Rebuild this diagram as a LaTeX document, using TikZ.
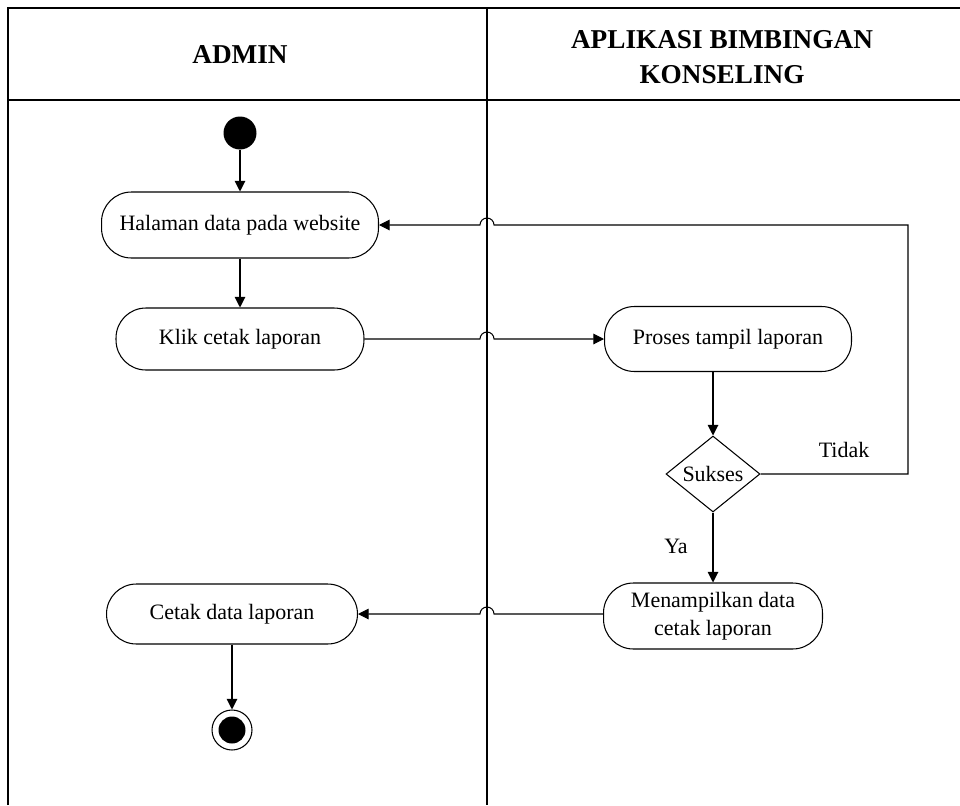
\documentclass[tikz,border=0pt]{standalone}
\usepackage{fontspec}
\setmainfont{Liberation Serif}
\usetikzlibrary{arrows.meta,shapes.geometric}

\tikzset{
  lanetitle/.style={font=\fontsize{15.5}{20}\selectfont\bfseries, align=center},
  activity/.style={draw, rounded corners=17pt, inner sep=0pt, align=center,
    font=\fontsize{12.5}{16}\selectfont},
  decision/.style={draw, diamond, aspect=1.24, inner sep=0pt,
    minimum width=1.88cm, minimum height=1.52cm, font=\fontsize{12.5}{16}\selectfont},
  guard/.style={font=\fontsize{12.5}{16}\selectfont},
  startstate/.style={circle, fill, minimum size=0.66cm, inner sep=0pt},
  endstate/.style={circle, draw, minimum size=0.8cm, inner sep=0pt,
    path picture={\fill (path picture bounding box.center) circle (0.27cm);}},
  flow/.style={-{Triangle[length=6pt,width=6pt]}, line width=0.6pt},
}

\begin{document}
\begin{tikzpicture}[x=0.02cm, y=-0.02cm, line width=0.6pt]
\useasboundingbox (0,0) rectangle (960,805);

% swimlane frame
\coordinate (lane) at (487,8);
\coordinate (retx) at (908,0);
\draw[line width=0.8pt] (8,805) -- (8,8) -- (960,8);
\draw[line width=0.8pt] (8,100) -- (960,100);
\draw[line width=0.8pt] (lane) -- (487,805);
\node[lanetitle] (admin) at (240,55) {ADMIN};
\node[lanetitle] (app) at (722,57) {APLIKASI BIMBINGAN\\KONSELING};

% activities
\node[startstate] (start) at (240,133) {};
\node[activity, minimum width=5.54cm, minimum height=1.32cm] (halaman) at (240,225) {Halaman data pada website};
\node[activity, minimum width=4.96cm, minimum height=1.24cm] (klik) at (240,339) {Klik cetak laporan};
\node[activity, minimum width=4.94cm, minimum height=1.3cm] (proses) at (728,339) {Proses tampil laporan};
\node[decision] (sukses) at (713,474) {Sukses};
\node[guard] (tidak) at (844,450) {Tidak};
\node[guard] (ya) at (676,546) {Ya};
\node[activity, minimum width=4.38cm, minimum height=1.32cm] (tampil) at (713,616) {Menampilkan data\\cetak laporan};
\node[activity, minimum width=5.02cm, minimum height=1.2cm] (cetak) at (232,614) {Cetak data laporan};
\node[endstate] (end) at (232,730) {};

% transitions
\draw[flow] (start) -- (halaman);
\draw[flow] (halaman) -- (klik);
\draw[flow] (klik) -- ([xshift=-0.14cm]klik -| lane) arc[start angle=180, end angle=0, radius=0.14cm] -- (proses);
\draw[flow] (proses.south -| sukses) -- (sukses);
\draw[flow] (sukses.east) -- (sukses.east -| retx) -- (retx |- halaman.east)
  -- ([xshift=0.14cm]halaman.east -| lane) arc[start angle=0, end angle=180, radius=0.14cm] -- (halaman.east);
\draw[flow] (sukses) -- (tampil);
\draw[flow] (tampil.west |- cetak) -- ([xshift=0.14cm]cetak -| lane) arc[start angle=0, end angle=180, radius=0.14cm] -- (cetak);
\draw[flow] (cetak) -- (end);
\end{tikzpicture}
\end{document}
